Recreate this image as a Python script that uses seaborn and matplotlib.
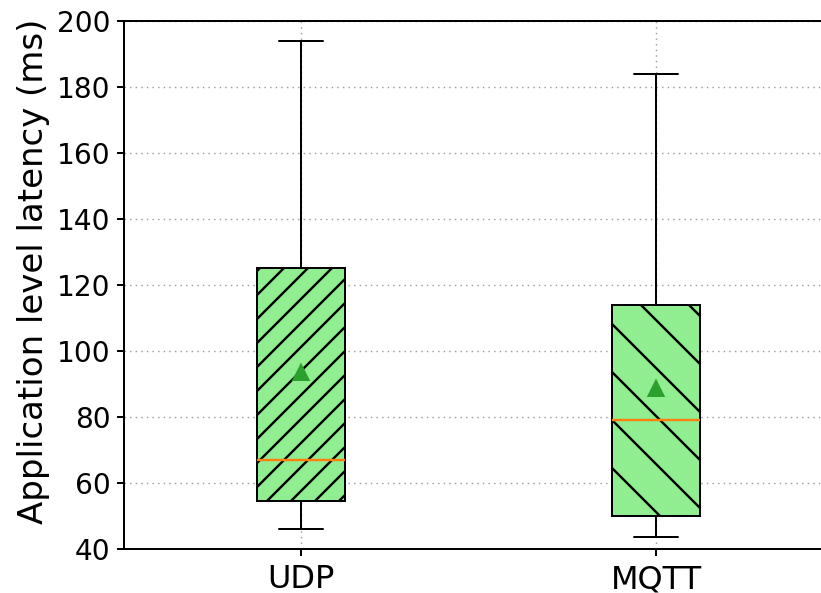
import matplotlib
matplotlib.use("Agg")
import matplotlib.pyplot as plt
import seaborn as sns

# box statistics (latency in ms)
protocols = ["UDP", "MQTT"]
whisker_low = [46, 43.7]
q1 = [54.5, 50]
medians = [67, 79]
q3 = [125, 114]
whisker_high = [194, 184]
means = [93.3, 88.5]
hatches = ["////", "\\\\"]

sns.set_style("ticks", {"text.color": "black", "axes.labelcolor": "black",
                        "xtick.color": "black", "ytick.color": "black",
                        "axes.edgecolor": "black"})
plt.rcParams["font.family"] = "DejaVu Sans"
plt.rcParams["hatch.linewidth"] = 0.6

DPI = 288
fig = plt.figure(figsize=(821 / DPI, 593 / DPI), dpi=DPI)
ax = fig.add_axes([123.5 / 821, 1 - 549 / 593, (833.5 - 123.5) / 821, (549 - 21) / 593])

stats = []
for i, p in enumerate(protocols):
    stats.append(dict(label=p, whislo=whisker_low[i], q1=q1[i], med=medians[i],
                      q3=q3[i], whishi=whisker_high[i], mean=means[i], fliers=[]))

bp = ax.bxp(stats, positions=[1, 2], widths=0.25, showmeans=True, patch_artist=True,
            showfliers=False,
            boxprops=dict(facecolor="lightgreen", edgecolor="black", linewidth=0.5),
            whiskerprops=dict(linewidth=0.5), capprops=dict(linewidth=0.5),
            medianprops=dict(color="C1", linewidth=0.6),
            meanprops=dict(marker="^", markerfacecolor="C2", markeredgecolor="C2",
                           markersize=3.2))
for patch, h in zip(bp["boxes"], hatches):
    patch.set_hatch(h)

ax.set_axisbelow(True)
ax.grid(True, linestyle=(0, (1, 3)), color="#999999", linewidth=0.35)
ax.set_xlim(0.5, 2.5)
ax.set_ylim(40, 200)
ax.set_yticks(range(40, 201, 20))
for s in ax.spines.values():
    s.set_linewidth(0.5)
ax.tick_params(direction="out", length=1.8, width=0.5, pad=1.5)
ax.tick_params(axis="y", labelsize=7)
ax.tick_params(axis="x", labelsize=8, pad=2)
ax.set_ylabel("Application level latency (ms)", fontsize=8.5)
ax.yaxis.set_label_coords(-0.104, 0.525)

fig.savefig("out.png", dpi=DPI)
